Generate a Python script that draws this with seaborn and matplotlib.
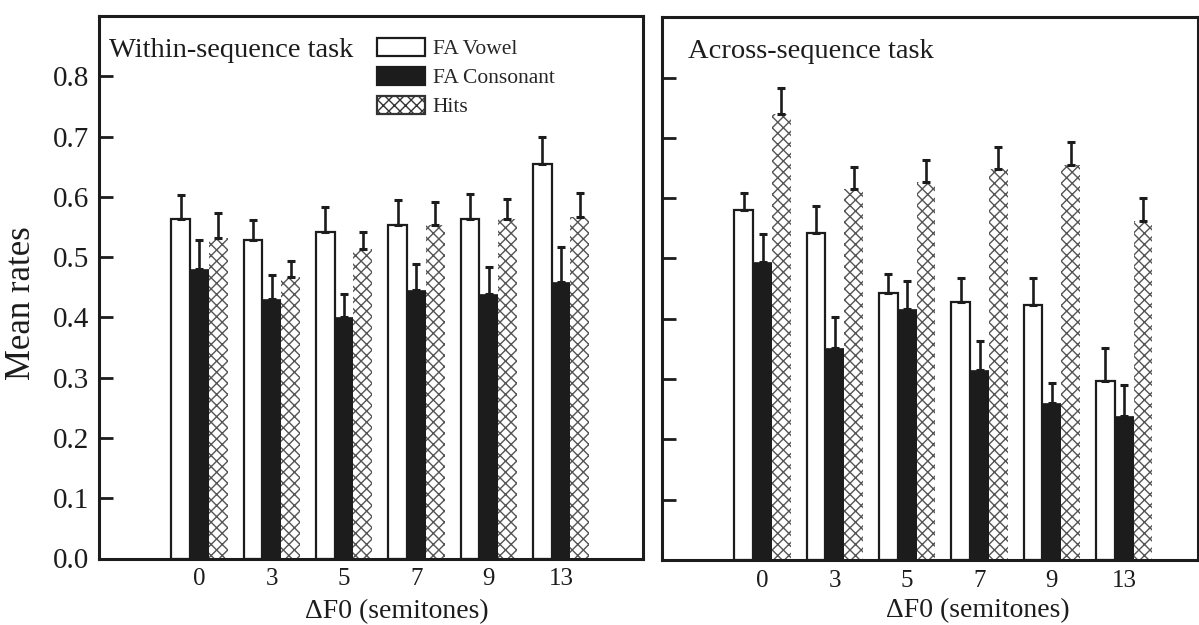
import numpy as np
import pandas as pd
import matplotlib
matplotlib.use("Agg")
import matplotlib.pyplot as plt
from matplotlib.patches import Patch
import seaborn as sns

# ---------------- data ----------------
dF0_levels = ["0", "3", "5", "7", "9", "13"]
measures = ["FA Vowel", "FA Consonant", "Hits"]

within_vowel = [0.563, 0.528, 0.542, 0.554, 0.564, 0.655]
within_vowel_err = [0.040, 0.033, 0.041, 0.040, 0.040, 0.045]
within_cons = [0.481, 0.430, 0.401, 0.446, 0.438, 0.459]
within_cons_err = [0.047, 0.040, 0.038, 0.042, 0.045, 0.057]
within_hits = [0.531, 0.467, 0.514, 0.554, 0.564, 0.567]
within_hits_err = [0.043, 0.026, 0.028, 0.038, 0.032, 0.040]

across_vowel = [0.580, 0.543, 0.442, 0.428, 0.423, 0.297]
across_vowel_err = [0.029, 0.044, 0.032, 0.039, 0.044, 0.054]
across_cons = [0.494, 0.351, 0.416, 0.315, 0.261, 0.239]
across_cons_err = [0.046, 0.052, 0.046, 0.049, 0.032, 0.051]
across_hits = [0.740, 0.616, 0.627, 0.648, 0.655, 0.563]
across_hits_err = [0.043, 0.035, 0.036, 0.037, 0.039, 0.037]

yticks = [0.0, 0.1, 0.2, 0.3, 0.4, 0.5, 0.6, 0.7, 0.8]
ytick_labels = ["0.0", "0.1", "0.2", "0.3", "0.4", "0.5", "0.6", "0.7", "0.8"]

panel_titles = ["Within-sequence task", "Across-sequence task"]
xlabel = "\u0394F0 (semitones)"
ylabel = "Mean rates"

# ---------------- style ----------------
sns.set_theme(style="white")
plt.rcParams["font.family"] = ["Liberation Serif", "DejaVu Serif"]
plt.rcParams["hatch.linewidth"] = 1.0

BLACK = "#1c1c1c"
HATCH_C = "#555555"


def make_df(v, c, h):
    rows = []
    for lvl, a, b, d in zip(dF0_levels, v, c, h):
        rows.append((lvl, measures[0], a))
        rows.append((lvl, measures[1], b))
        rows.append((lvl, measures[2], d))
    return pd.DataFrame(rows, columns=["dF0", "measure", "rate"])


fig = plt.figure(figsize=(11.99, 6.25), dpi=100)
ax1 = fig.add_axes([99 / 1199, (625 - 558.5) / 625, 543.7 / 1199, 542.5 / 625])
ax2 = fig.add_axes([662 / 1199, (625 - 560) / 625, 536 / 1199, 542.7 / 625])

panels = [
    (ax1, make_df(within_vowel, within_cons, within_hits),
     [within_vowel_err, within_cons_err, within_hits_err], (-1.39, 6.13)),
    (ax2, make_df(across_vowel, across_cons, across_hits),
     [across_vowel_err, across_cons_err, across_hits_err], (-1.39, 6.02)),
]

for i, (ax, df, errs, xl) in enumerate(panels):
    sns.barplot(data=df, x="dF0", y="rate", hue="measure", order=dF0_levels,
                hue_order=measures, errorbar=None, width=0.78,
                palette=["white", BLACK, "white"], ax=ax, legend=False,
                saturation=1)
    styles = [
        dict(facecolor="white", edgecolor=BLACK, linewidth=1.6, hatch=None),
        dict(facecolor=BLACK, edgecolor=BLACK, linewidth=0.5, hatch=None),
        dict(facecolor="white", edgecolor=HATCH_C, linewidth=0.0, hatch="xxx"),
    ]
    for cont, st, err in zip(ax.containers, styles, errs):
        xs, ys = [], []
        for bar in cont:
            bar.set_facecolor(st["facecolor"])
            bar.set_edgecolor(st["edgecolor"])
            bar.set_linewidth(st["linewidth"])
            if st["hatch"]:
                bar.set_hatch(st["hatch"])
            xs.append(bar.get_x() + bar.get_width() / 2)
            ys.append(bar.get_height())
        err = np.asarray(err)
        ax.errorbar(xs, ys, yerr=[np.zeros_like(err), err], fmt="none",
                    ecolor=BLACK, elinewidth=1.9, capsize=3.0, capthick=2.2,
                    zorder=1)

    ax.set_xlim(*xl)
    ax.set_ylim(0, 0.9)
    ax.set_yticks(yticks)
    ax.tick_params(axis="y", direction="in", length=10, width=2.0,
                   colors=BLACK, labelsize=21, pad=7, left=True)
    ax.tick_params(axis="x", length=0, labelsize=18, pad=7, colors=BLACK)
    if i == 0:
        ax.set_yticklabels(ytick_labels)
        ax.set_ylabel(ylabel, fontsize=25, color=BLACK)
    else:
        ax.set_yticklabels([])
        ax.set_ylabel("")
    ax.set_xlabel(xlabel, fontsize=20, color=BLACK, va="center")
    for s in ax.spines.values():
        s.set_visible(True)
        s.set_linewidth(2.2)
        s.set_color(BLACK)
    ax.text(0.019 if i == 0 else 0.048, 0.937, panel_titles[i],
            transform=ax.transAxes, fontsize=20.5, color=BLACK,
            ha="left", va="center")

ax1.yaxis.set_label_coords(-0.113, 0.47)
ax1.xaxis.set_label_coords(0.548, -0.097)
ax2.xaxis.set_label_coords(0.59, -0.094)

handles = [
    Patch(facecolor="white", edgecolor=BLACK, linewidth=1.6),
    Patch(facecolor=BLACK, edgecolor=BLACK, linewidth=1.6),
    Patch(facecolor="white", edgecolor="#333333", linewidth=1.6, hatch="xxx"),
]
ax1.legend(handles, measures, loc="upper left",
           bbox_to_anchor=(0.511, 0.959), frameon=False, fontsize=15.5,
           handlelength=2.23, handleheight=0.88, handletextpad=0.37,
           labelspacing=0.36, borderpad=0, borderaxespad=0)

fig.savefig("out.png", dpi=100)
